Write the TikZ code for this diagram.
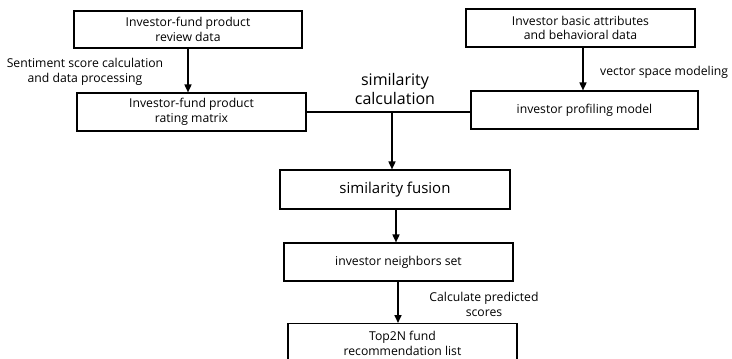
\documentclass[tikz,border=0pt]{standalone}
\usepackage{fontspec}
\setmainfont{Open Sans}
\usetikzlibrary{arrows.meta}
\begin{document}
\begin{tikzpicture}[x=1pt,y=-1pt,
  box/.style={draw,line width=1.1pt,inner sep=0pt,font=\fontsize{12.2}{14.5}\selectfont,align=center},
  arr/.style={line width=1.6pt,-{Triangle[length=8pt,width=7pt]}},
  lbl/.style={font=\fontsize{12.2}{15}\selectfont,align=center,inner sep=0pt}]
\useasboundingbox (0,0) rectangle (732,359);
\node[box,minimum width=228pt,minimum height=37pt] (A) at (188,29.5) {Investor-fund product\\review data};
\node[box,minimum width=229pt,minimum height=38pt] (B) at (191.5,112) {Investor-fund product\\rating matrix};
\node[box,minimum width=229pt,minimum height=38pt] (C) at (580.5,28) {Investor basic attributes\\and behavioral data};
\node[box,minimum width=227pt,minimum height=38pt] (D) at (584.5,110) {investor profiling model};
\node[box,minimum width=230pt,minimum height=39pt,font=\fontsize{15}{18}\selectfont] (E) at (395,189.5) {similarity fusion};
\node[box,minimum width=229pt,minimum height=38pt] (F) at (398.5,262) {investor neighbors set};
\node[box,minimum width=229pt,minimum height=40pt,anchor=north] (G) at (402.5,323) {Top2N fund\\recommendation list};
\coordinate (J) at (392,112);
\draw[line width=1.1pt] (B.east) -- (J) -- (D.west |- J);
\node[lbl,font=\fontsize{16}{19}\selectfont] (sc) at (395,89) {similarity\\calculation};
\draw[arr] (A.south -| 188,0) -- (B.north -| 188,0);
\draw[arr] (C.south -| 583,0) -- (D.north -| 583,0);
\draw[arr] (J) -- (E.north -| J);
\draw[arr] (E.south -| 396,0) -- (F.north -| 396,0);
\draw[arr] (F.south -| 398,0) -- (G.north -| 398,0);
\node[lbl] (l1) at (85,72) {Sentiment score calculation\\and data processing};
\node[lbl,anchor=west] (l2) at (600,72) {vector space modeling};
\node[lbl] (l3) at (484,304.5) {Calculate predicted\\scores};
\end{tikzpicture}
\end{document}
